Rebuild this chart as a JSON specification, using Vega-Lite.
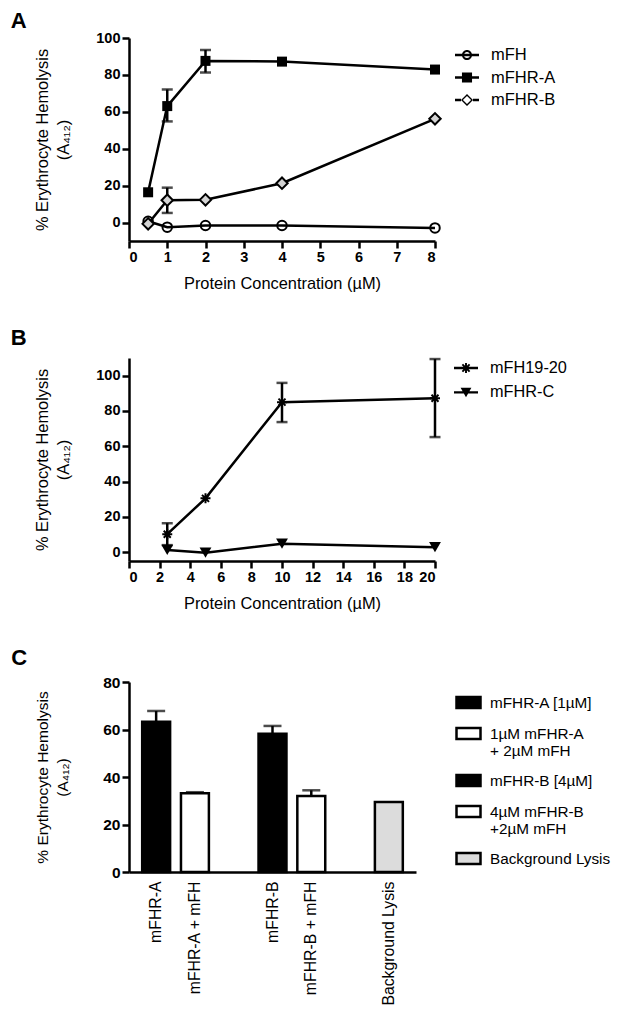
{
  "$schema": "https://vega.github.io/schema/vega-lite/v6.json",
  "background": "white",
  "padding": {"left": 10, "top": 10, "right": 0, "bottom": 0},
  "spacing": 35,
  "resolve": {"scale": {"shape": "independent", "fill": "independent"}, "legend": {"shape": "independent", "fill": "independent"}},
  "datasets": {
    "a": [
      {"protein": "mFH", "conc": 0.5, "value": 0.7, "lo": null, "hi": null},
      {"protein": "mFH", "conc": 1, "value": -2.5, "lo": null, "hi": null},
      {"protein": "mFH", "conc": 2, "value": -1.6, "lo": null, "hi": null},
      {"protein": "mFH", "conc": 4, "value": -1.6, "lo": null, "hi": null},
      {"protein": "mFH", "conc": 8, "value": -2.9, "lo": null, "hi": null},
      {"protein": "mFHR-A", "conc": 0.5, "value": 16.4, "lo": null, "hi": null},
      {"protein": "mFHR-A", "conc": 1, "value": 63.1, "lo": 54.8, "hi": 72.1},
      {"protein": "mFHR-A", "conc": 2, "value": 87.6, "lo": 81.3, "hi": 93.5},
      {"protein": "mFHR-A", "conc": 4, "value": 87.2, "lo": null, "hi": null},
      {"protein": "mFHR-A", "conc": 8, "value": 82.9, "lo": null, "hi": null},
      {"protein": "mFHR-B", "conc": 0.5, "value": -0.7, "lo": null, "hi": null},
      {"protein": "mFHR-B", "conc": 1, "value": 12.1, "lo": 5.2, "hi": 18.9},
      {"protein": "mFHR-B", "conc": 2, "value": 12.3, "lo": null, "hi": null},
      {"protein": "mFHR-B", "conc": 4, "value": 21.3, "lo": null, "hi": null},
      {"protein": "mFHR-B", "conc": 8, "value": 56.2, "lo": null, "hi": null}
    ],
    "b": [
      {"protein": "mFH19-20", "conc": 2.5, "value": 10.2, "lo": 4.0, "hi": 16.4},
      {"protein": "mFH19-20", "conc": 5, "value": 30.5, "lo": null, "hi": null},
      {"protein": "mFH19-20", "conc": 10, "value": 85.0, "lo": 73.7, "hi": 95.9},
      {"protein": "mFH19-20", "conc": 20, "value": 87.2, "lo": 65.2, "hi": 109.4},
      {"protein": "mFHR-C", "conc": 2.5, "value": 1.3, "lo": null, "hi": null},
      {"protein": "mFHR-C", "conc": 5, "value": -0.3, "lo": null, "hi": null},
      {"protein": "mFHR-C", "conc": 10, "value": 4.8, "lo": null, "hi": null},
      {"protein": "mFHR-C", "conc": 20, "value": 2.8, "lo": null, "hi": null}
    ],
    "c": [
      {"cond": "mFHR-A", "legend": "mFHR-A [1µM]", "value": 63.3, "hi": 67.8},
      {"cond": "mFHR-A + mFH", "legend": "1µM mFHR-A|+ 2µM mFH", "value": 33.2, "hi": 33.6},
      {"cond": "mFHR-B", "legend": "mFHR-B [4µM]", "value": 58.2, "hi": 61.5},
      {"cond": "mFHR-B + mFH", "legend": "4µM mFHR-B|+2µM mFH", "value": 32.0, "hi": 34.4},
      {"cond": "Background Lysis", "legend": "Background Lysis", "value": 29.5, "hi": null}
    ]
  },
  "vconcat": [
    {
      "title": {"text": "A", "anchor": "start", "frame": "bounds", "dx": -24, "fontSize": 22, "fontWeight": "bold", "font": "Liberation Sans", "color": "black", "offset": -3},
      "width": 306,
      "height": 203,
      "data": {"name": "a"},
      "encoding": {
        "x": {"field": "conc", "type": "quantitative", "scale": {"domain": [0, 8], "nice": false, "zero": false}, "axis": {"values": [0, 1, 2, 3, 4, 5, 6, 7, 8], "format": "d", "title": "Protein Concentration (µM)", "titlePadding": 12}},
        "y": {"field": "value", "type": "quantitative", "scale": {"domain": [-10, 100], "nice": false}, "axis": {"values": [0, 20, 40, 60, 80, 100], "title": ["% Erythrocyte Hemolysis", "(A₄₁₂)"], "titleLineHeight": 21, "titlePadding": 24}}
      },
      "layer": [
        {"mark": {"type": "line", "color": "black", "strokeWidth": 2.5}, "encoding": {"detail": {"field": "protein"}}},
        {"transform": [{"filter": "isValid(datum.lo)"}], "mark": {"type": "rule", "color": "black", "strokeWidth": 2.5}, "encoding": {"y": {"field": "lo", "type": "quantitative"}, "y2": {"field": "hi"}}},
        {"transform": [{"filter": "isValid(datum.lo)"}], "mark": {"type": "tick", "color": "black", "orient": "horizontal", "size": 11, "thickness": 2.5}, "encoding": {"y": {"field": "lo", "type": "quantitative"}}},
        {"transform": [{"filter": "isValid(datum.hi)"}], "mark": {"type": "tick", "color": "black", "orient": "horizontal", "size": 11, "thickness": 2.5}, "encoding": {"y": {"field": "hi", "type": "quantitative"}}},
        {"transform": [{"filter": "datum.protein === 'mFH'"}], "mark": {"type": "point", "shape": "circle", "size": 90, "filled": false, "stroke": "black", "strokeWidth": 2, "opacity": 1}},
        {"transform": [{"filter": "datum.protein === 'mFHR-A'"}], "mark": {"type": "point", "shape": "square", "size": 100, "filled": true, "color": "black", "opacity": 1}},
        {"transform": [{"filter": "datum.protein === 'mFHR-B'"}], "mark": {"type": "point", "shape": "diamond", "size": 130, "filled": true, "fill": "#d4d4d4", "stroke": "black", "strokeWidth": 2, "opacity": 1}},
        {
          "mark": {"type": "point", "filled": true, "color": "black", "opacity": 0},
          "encoding": {
            "shape": {"field": "protein", "type": "nominal",
              "scale": {"domain": ["mFH", "mFHR-A", "mFHR-B"], "range": [
                "M-1,-0.1H1V0.1H-1ZM-0.42,0A0.42,0.42,0,1,1,0.42,0A0.42,0.42,0,1,1,-0.42,0ZM-0.26,0A0.26,0.26,0,1,0,0.26,0A0.26,0.26,0,1,0,-0.26,0Z",
                "M-1,-0.1H1V0.1H-1ZM-0.42,-0.42H0.42V0.42H-0.42Z",
                "M-1,-0.1H-0.5V0.1H-1ZM0.5,-0.1H1V0.1H0.5ZM-0.5,0L0,-0.5L0.5,0L0,0.5ZM-0.34,0L0,0.34L0.34,0L0,-0.34Z"]},
              "legend": {"title": null, "orient": "none", "legendX": 326, "legendY": 5, "padding": 0, "rowPadding": 1.5, "labelOffset": 12, "labelFontSize": 16.5, "symbolSize": 576, "symbolOpacity": 1, "symbolFillColor": "black", "symbolStrokeWidth": 0}
            }
          }
        }
      ]
    },
    {
      "title": {"text": "B", "anchor": "start", "frame": "bounds", "dx": -24, "fontSize": 22, "fontWeight": "bold", "font": "Liberation Sans", "color": "black", "offset": 6},
      "width": 306,
      "height": 203,
      "data": {"name": "b"},
      "encoding": {
        "x": {"field": "conc", "type": "quantitative", "scale": {"domain": [0, 20], "nice": false, "zero": false}, "axis": {"values": [0, 2, 4, 6, 8, 10, 12, 14, 16, 18, 20], "format": "d", "title": "Protein Concentration (µM)", "titlePadding": 12}},
        "y": {"field": "value", "type": "quantitative", "scale": {"domain": [-5, 110], "nice": false}, "axis": {"values": [0, 20, 40, 60, 80, 100], "title": ["% Erythrocyte Hemolysis", "(A₄₁₂)"], "titleLineHeight": 21, "titlePadding": 24}}
      },
      "layer": [
        {"mark": {"type": "line", "color": "black", "strokeWidth": 2.5}, "encoding": {"detail": {"field": "protein"}}},
        {"transform": [{"filter": "isValid(datum.lo)"}], "mark": {"type": "rule", "color": "black", "strokeWidth": 2.5}, "encoding": {"y": {"field": "lo", "type": "quantitative"}, "y2": {"field": "hi"}}},
        {"transform": [{"filter": "isValid(datum.lo)"}], "mark": {"type": "tick", "color": "black", "orient": "horizontal", "size": 11, "thickness": 2.5}, "encoding": {"y": {"field": "lo", "type": "quantitative"}}},
        {"transform": [{"filter": "isValid(datum.hi)"}], "mark": {"type": "tick", "color": "black", "orient": "horizontal", "size": 11, "thickness": 2.5}, "encoding": {"y": {"field": "hi", "type": "quantitative"}}},
        {"transform": [{"filter": "datum.protein === 'mFH19-20'"}], "mark": {"type": "point", "shape": "M-1,0H1M0,-1V1M-0.7,-0.7L0.7,0.7M-0.7,0.7L0.7,-0.7", "size": 100, "filled": false, "stroke": "black", "strokeWidth": 2, "opacity": 1}},
        {"transform": [{"filter": "datum.protein === 'mFHR-C'"}], "mark": {"type": "point", "shape": "triangle-down", "size": 140, "filled": true, "color": "black", "opacity": 1}},
        {
          "mark": {"type": "point", "filled": true, "color": "black", "opacity": 0},
          "encoding": {
            "shape": {"field": "protein", "type": "nominal",
              "scale": {"domain": ["mFH19-20", "mFHR-C"], "range": [
                "M-1,-0.1H1V0.1H-1ZM-0.08,-0.42H0.08V0.42H-0.08ZM-0.243,-0.357L0.357,0.243L0.243,0.357L-0.357,-0.243ZM-0.357,0.243L0.243,-0.357L0.357,-0.243L-0.243,0.357Z",
                "M-1,-0.1H1V0.1H-1ZM-0.45,-0.38H0.45L0,0.4Z"]},
              "legend": {"title": null, "orient": "none", "legendX": 325, "legendY": -2, "padding": 0, "rowPadding": 3.4, "labelOffset": 12, "labelFontSize": 16.3, "symbolSize": 576, "symbolOpacity": 1, "symbolFillColor": "black", "symbolStrokeWidth": 0}
            }
          }
        }
      ]
    },
    {
      "title": {"text": "C", "anchor": "start", "frame": "bounds", "dx": -24, "fontSize": 22, "fontWeight": "bold", "font": "Liberation Sans", "color": "black", "offset": 5},
      "width": 287,
      "height": 190,
      "data": {"name": "c"},
      "encoding": {
        "x": {"field": "cond", "type": "nominal", "sort": null,
          "scale": {"domain": ["mFHR-A", "mFHR-A + mFH", " ", "mFHR-B", "mFHR-B + mFH", "  ", "Background Lysis"], "paddingInner": 0.28, "paddingOuter": 0.34},
          "axis": {"title": null, "labelAngle": -90, "ticks": false, "labelPadding": 9, "labelFontWeight": "normal", "labelFontSize": 15.8}}
      },
      "layer": [
        {
          "mark": {"type": "bar", "stroke": "black", "strokeWidth": 2.5},
          "encoding": {
            "y": {"field": "value", "type": "quantitative", "scale": {"domain": [0, 80], "nice": false}, "axis": {"values": [0, 20, 40, 60, 80], "title": ["% Erythrocyte Hemolysis", "(A₄₁₂)"], "titleLineHeight": 20, "titlePadding": 32.5, "titleFontSize": 15.5, "labelFontSize": 15.5}},
            "fill": {"field": "legend", "type": "nominal",
              "scale": {"domain": ["mFHR-A [1µM]", "1µM mFHR-A|+ 2µM mFH", "mFHR-B [4µM]", "4µM mFHR-B|+2µM mFH", "Background Lysis"], "range": ["black", "white", "black", "white", "#dcdcdc"]},
              "legend": {"title": null, "orient": "none", "legendX": 326, "legendY": 7, "padding": 0, "rowPadding": 7, "labelOffset": 8, "labelFontSize": 15.3, "labelExpr": "split(datum.label, '|')", "symbolType": "M-1,-0.45H1V0.45H-1Z", "symbolSize": 576, "symbolStrokeColor": "black", "symbolStrokeWidth": 2.5, "symbolOpacity": 1}
            }
          }
        },
        {"transform": [{"filter": "isValid(datum.hi)"}], "mark": {"type": "rule", "color": "black", "strokeWidth": 2.5}, "encoding": {"y": {"field": "value", "type": "quantitative"}, "y2": {"field": "hi"}}},
        {"transform": [{"filter": "isValid(datum.hi)"}], "mark": {"type": "tick", "color": "black", "orient": "horizontal", "size": 18, "thickness": 2.5}, "encoding": {"y": {"field": "hi", "type": "quantitative"}}}
      ]
    }
  ],
  "config": {
    "view": {"stroke": null},
    "font": "Liberation Sans",
    "axis": {"domainColor": "black", "domainWidth": 2.5, "tickColor": "black", "tickWidth": 2.5, "tickSize": 7, "labelFont": "Liberation Sans", "labelFontWeight": "bold", "labelFontSize": 14.5, "labelColor": "black", "labelPadding": 2, "titleFont": "Liberation Sans", "titleFontWeight": "normal", "titleFontSize": 16.4, "titleColor": "black", "grid": false},
    "legend": {"labelFont": "Liberation Sans", "labelColor": "black", "labelLimit": 300}
  }
}
